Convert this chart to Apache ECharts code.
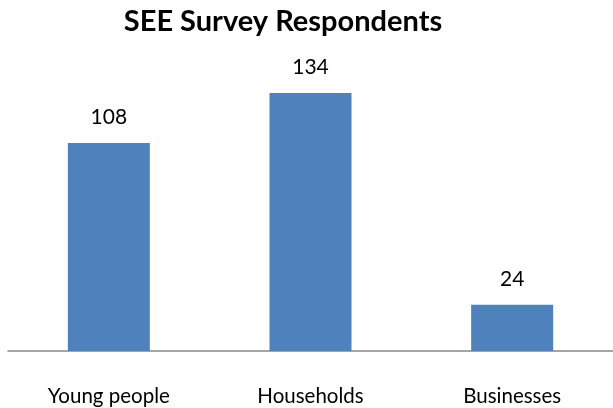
<!DOCTYPE html>
<html>
<head>
<meta charset="utf-8">
<script src="https://cdn.jsdelivr.net/npm/echarts@6/dist/echarts.min.js"></script>
<style>
  html, body { margin: 0; padding: 0; background: #fff; }
  #chart { width: 613px; height: 408px; }
</style>
</head>
<body>
<div id="chart"></div>
<script>
// Respondent counts per survey group
const categories = ['Young people', 'Households', 'Businesses'];
const respondents = [108, 134, 24];

const chart = echarts.init(document.getElementById('chart'), null, { renderer: 'canvas' });
chart.setOption({
  animation: false,
  backgroundColor: '#ffffff',
  title: {
    text: 'SEE Survey Respondents',
    left: 278,
    top: 2,
    textAlign: 'center',
    textStyle: { fontFamily: 'Lato', fontWeight: 'bold', fontSize: 29, color: '#000' }
  },
  grid: { left: 8, right: -4, top: 81.5, bottom: 57, containLabel: false },
  xAxis: {
    type: 'category',
    data: categories,
    axisLine: { lineStyle: { color: '#888888', width: 1.5 } },
    axisTick: { show: false },
    axisLabel: { margin: 35, fontFamily: 'Lato', fontSize: 20.5, color: '#000' }
  },
  yAxis: {
    type: 'value',
    min: 0,
    max: 140,
    show: false,
    splitLine: { show: false }
  },
  series: [{
    type: 'bar',
    data: respondents,
    barWidth: 82,
    itemStyle: { color: '#4f81bd' },
    label: {
      show: true,
      position: 'top',
      distance: 15,
      fontFamily: 'Lato',
      fontSize: 21,
      color: '#000'
    }
  }]
});
</script>
</body>
</html>
